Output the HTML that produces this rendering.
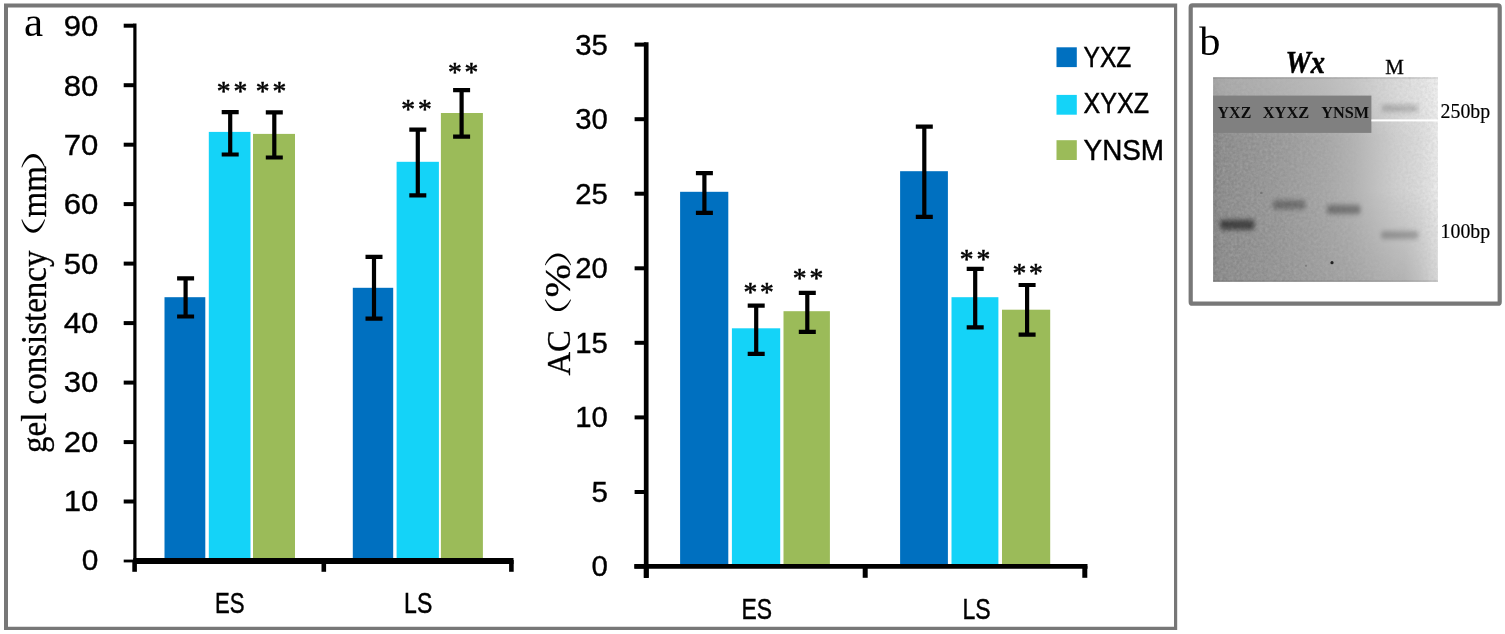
<!DOCTYPE html>
<html lang="en"><head><meta charset="utf-8"><title>Figure</title>
<style>
html,body{margin:0;padding:0;background:#fff;}
body{width:1505px;height:634px;overflow:hidden;}
svg{display:block;}
.sans{font-family:"Liberation Sans","DejaVu Sans",sans-serif;}
.serif{font-family:"Liberation Serif","Noto Serif CJK SC","DejaVu Serif",serif;}
</style></head><body>
<svg width="1505" height="634" viewBox="0 0 1505 634">
<defs>
<linearGradient id="gelg" x1="0" y1="0" x2="1" y2="0">
<stop offset="0" stop-color="#7c7c7c"/><stop offset="0.04" stop-color="#878787"/><stop offset="0.3" stop-color="#959595"/><stop offset="0.5" stop-color="#a3a3a3"/><stop offset="0.62" stop-color="#b0b0b0"/><stop offset="0.72" stop-color="#c0c0c0"/><stop offset="0.82" stop-color="#d0d0d0"/><stop offset="0.92" stop-color="#dcdcdc"/><stop offset="1" stop-color="#ececec"/>
</linearGradient>
<linearGradient id="gelv" x1="0" y1="0" x2="0" y2="1">
<stop offset="0" stop-color="#fff" stop-opacity="0.27"/><stop offset="0.09" stop-color="#fff" stop-opacity="0.24"/><stop offset="0.3" stop-color="#fff" stop-opacity="0"/><stop offset="1" stop-color="#fff" stop-opacity="0"/>
</linearGradient>
<linearGradient id="gelh2" x1="0" y1="0" x2="1" y2="0">
<stop offset="0" stop-color="#000" stop-opacity="0"/><stop offset="0.5" stop-color="#000" stop-opacity="0.3"/><stop offset="0.85" stop-color="#000" stop-opacity="1"/><stop offset="1" stop-color="#000" stop-opacity="0.5"/>
</linearGradient>
<linearGradient id="gelv2" x1="0" y1="0" x2="0" y2="1">
<stop offset="0" stop-color="#fff" stop-opacity="0"/><stop offset="0.55" stop-color="#fff" stop-opacity="0"/><stop offset="1" stop-color="#fff" stop-opacity="1"/>
</linearGradient>
<mask id="gm" maskUnits="userSpaceOnUse" x="1213" y="77" width="225" height="205"><rect x="1213" y="77" width="225" height="205" fill="url(#gelv2)"/></mask>
<filter id="noise" x="0" y="0" width="100%" height="100%"><feTurbulence type="fractalNoise" baseFrequency="0.35" numOctaves="2" seed="7" result="n"/><feColorMatrix in="n" type="matrix" values="0 0 0 0 0.5  0 0 0 0 0.5  0 0 0 0 0.5  0.9 0.9 0 0 -0.62"/></filter>
<filter id="b2" x="-40%" y="-250%" width="180%" height="600%"><feGaussianBlur stdDeviation="2 1.6"/></filter>
<filter id="b3" x="-40%" y="-150%" width="180%" height="400%"><feGaussianBlur stdDeviation="2.2 2.4"/></filter>
<filter id="b1" x="-50%" y="-50%" width="200%" height="200%"><feGaussianBlur stdDeviation="0.7"/></filter>
</defs>
<rect width="1505" height="634" fill="#fff"/>

<path d="M4 3.6H1177.2V630H4Z M8 7.6V626.8H1174V7.6Z" fill="#777" fill-rule="evenodd"/>
<rect x="1190.7" y="5.4" width="309" height="298.3" rx="1.8" fill="none" stroke="#787878" stroke-width="4.2"/>
<rect x="164.5" y="297.2" width="40.8" height="261.3" fill="#0070C0"/>
<rect x="208.8" y="131.9" width="41.7" height="426.6" fill="#14D3F8"/>
<rect x="253.0" y="133.9" width="42.0" height="424.6" fill="#9BBB59"/>
<rect x="352.8" y="287.8" width="40.4" height="270.7" fill="#0070C0"/>
<rect x="396.6" y="161.8" width="42.3" height="396.7" fill="#14D3F8"/>
<rect x="440.9" y="113.0" width="42.0" height="445.5" fill="#9BBB59"/>
<path d="M134.9 23.6V563.5" stroke="#000" stroke-width="3.2" fill="none"/>
<path d="M133.3 561H513.5" stroke="#000" stroke-width="6" fill="none"/>
<path d="M123.7 25.7H134" stroke="#000" stroke-width="4" fill="none"/>
<text class="sans" x="98.4" y="36.3" font-size="29" text-anchor="end" textLength="34.6" lengthAdjust="spacingAndGlyphs" stroke="#000" stroke-width="0.35">90</text>
<path d="M123.7 85.2H134" stroke="#000" stroke-width="4" fill="none"/>
<text class="sans" x="98.4" y="95.6" font-size="29" text-anchor="end" textLength="34.6" lengthAdjust="spacingAndGlyphs" stroke="#000" stroke-width="0.35">80</text>
<path d="M123.7 144.7H134" stroke="#000" stroke-width="4" fill="none"/>
<text class="sans" x="98.4" y="154.9" font-size="29" text-anchor="end" textLength="34.6" lengthAdjust="spacingAndGlyphs" stroke="#000" stroke-width="0.35">70</text>
<path d="M123.7 204.1H134" stroke="#000" stroke-width="4" fill="none"/>
<text class="sans" x="98.4" y="214.3" font-size="29" text-anchor="end" textLength="34.6" lengthAdjust="spacingAndGlyphs" stroke="#000" stroke-width="0.35">60</text>
<path d="M123.7 263.6H134" stroke="#000" stroke-width="4" fill="none"/>
<text class="sans" x="98.4" y="273.6" font-size="29" text-anchor="end" textLength="34.6" lengthAdjust="spacingAndGlyphs" stroke="#000" stroke-width="0.35">50</text>
<path d="M123.7 323.1H134" stroke="#000" stroke-width="4" fill="none"/>
<text class="sans" x="98.4" y="332.9" font-size="29" text-anchor="end" textLength="34.6" lengthAdjust="spacingAndGlyphs" stroke="#000" stroke-width="0.35">40</text>
<path d="M123.7 382.6H134" stroke="#000" stroke-width="4" fill="none"/>
<text class="sans" x="98.4" y="392.2" font-size="29" text-anchor="end" textLength="34.6" lengthAdjust="spacingAndGlyphs" stroke="#000" stroke-width="0.35">30</text>
<path d="M123.7 442.1H134" stroke="#000" stroke-width="4" fill="none"/>
<text class="sans" x="98.4" y="451.5" font-size="29" text-anchor="end" textLength="34.6" lengthAdjust="spacingAndGlyphs" stroke="#000" stroke-width="0.35">20</text>
<path d="M123.7 501.5H134" stroke="#000" stroke-width="4" fill="none"/>
<text class="sans" x="98.4" y="510.9" font-size="29" text-anchor="end" textLength="34.6" lengthAdjust="spacingAndGlyphs" stroke="#000" stroke-width="0.35">10</text>
<path d="M123.7 561.0H134" stroke="#000" stroke-width="2.8" fill="none"/>
<text class="sans" x="98.4" y="570.2" font-size="29" text-anchor="end" textLength="16.6" lengthAdjust="spacingAndGlyphs" stroke="#000" stroke-width="0.35">0</text>
<path d="M134.6 560V571.8" stroke="#000" stroke-width="4.6" fill="none"/>
<path d="M323.8 560V571.8" stroke="#000" stroke-width="4.6" fill="none"/>
<path d="M511.4 560V571.8" stroke="#000" stroke-width="4.6" fill="none"/>
<path d="M185.6 278.3V316.5" stroke="#000" stroke-width="4.2" fill="none"/>
<path d="M177.1 278.3H194.1M177.1 316.5H194.1" stroke="#000" stroke-width="4.2" fill="none"/>
<path d="M230.2 112.2V154.5" stroke="#000" stroke-width="4.2" fill="none"/>
<path d="M221.7 112.2H238.7M221.7 154.5H238.7" stroke="#000" stroke-width="4.2" fill="none"/>
<path d="M274.3 112.4V157.5" stroke="#000" stroke-width="4.2" fill="none"/>
<path d="M265.8 112.4H282.8M265.8 157.5H282.8" stroke="#000" stroke-width="4.2" fill="none"/>
<path d="M374.0 256.9V318.7" stroke="#000" stroke-width="4.2" fill="none"/>
<path d="M365.5 256.9H382.5M365.5 318.7H382.5" stroke="#000" stroke-width="4.2" fill="none"/>
<path d="M417.8 129.7V195.4" stroke="#000" stroke-width="4.2" fill="none"/>
<path d="M409.3 129.7H426.3M409.3 195.4H426.3" stroke="#000" stroke-width="4.2" fill="none"/>
<path d="M461.6 90.2V136.6" stroke="#000" stroke-width="4.2" fill="none"/>
<path d="M453.1 90.2H470.1M453.1 136.6H470.1" stroke="#000" stroke-width="4.2" fill="none"/>
<text class="serif" x="233.4" y="99.6" font-size="27.5" text-anchor="middle" letter-spacing="2.8" stroke="#000" stroke-width="0.55">**</text>
<text class="serif" x="272.4" y="99.6" font-size="27.5" text-anchor="middle" letter-spacing="2.8" stroke="#000" stroke-width="0.55">**</text>
<text class="serif" x="417.9" y="118.2" font-size="27.5" text-anchor="middle" letter-spacing="2.8" stroke="#000" stroke-width="0.55">**</text>
<text class="serif" x="464.6" y="80.8" font-size="27.5" text-anchor="middle" letter-spacing="2.8" stroke="#000" stroke-width="0.55">**</text>
<text class="sans" x="229.7" y="612.7" font-size="28.6" text-anchor="middle" textLength="29.6" lengthAdjust="spacingAndGlyphs" stroke="#000" stroke-width="0.45">ES</text>
<text class="sans" x="418.2" y="612.7" font-size="28.6" text-anchor="middle" textLength="28.2" lengthAdjust="spacingAndGlyphs" stroke="#000" stroke-width="0.45">LS</text>
<text class="serif" font-size="33" transform="translate(45.5,453) rotate(-90) scale(1,1.06)" stroke="#000" stroke-width="0.3">gel consistency<tspan x="189" y="-2.8" font-size="23.7" textLength="47.9" lengthAdjust="spacingAndGlyphs" stroke="none">（</tspan><tspan x="235.6" y="0">mm</tspan><tspan x="282.3" y="-2.8" font-size="23.7" textLength="47.9" lengthAdjust="spacingAndGlyphs" stroke="none">）</tspan></text>
<text class="serif" x="24" y="36.4" font-size="43">a</text>
<rect x="680.1" y="191.8" width="48.2" height="372.7" fill="#0070C0"/>
<rect x="731.9" y="328.3" width="48.3" height="236.2" fill="#14D3F8"/>
<rect x="783.5" y="311.2" width="46.4" height="253.3" fill="#9BBB59"/>
<rect x="900.1" y="171.2" width="47.8" height="393.3" fill="#0070C0"/>
<rect x="951.5" y="297.2" width="46.9" height="267.3" fill="#14D3F8"/>
<rect x="1002.0" y="309.7" width="48.2" height="254.8" fill="#9BBB59"/>
<path d="M646.2 42.3V578" stroke="#000" stroke-width="4.7" fill="none"/>
<path d="M634.3 566.4H1087.5" stroke="#000" stroke-width="4.7" fill="none"/>
<path d="M634.6 44.6H646" stroke="#000" stroke-width="4" fill="none"/>
<text class="sans" x="607.9" y="54.7" font-size="29" text-anchor="end" textLength="32.6" lengthAdjust="spacingAndGlyphs" stroke="#000" stroke-width="0.35">35</text>
<path d="M634.6 119.2H646" stroke="#000" stroke-width="4" fill="none"/>
<text class="sans" x="607.9" y="129.2" font-size="29" text-anchor="end" textLength="32.6" lengthAdjust="spacingAndGlyphs" stroke="#000" stroke-width="0.35">30</text>
<path d="M634.6 193.7H646" stroke="#000" stroke-width="4" fill="none"/>
<text class="sans" x="607.9" y="203.7" font-size="29" text-anchor="end" textLength="32.6" lengthAdjust="spacingAndGlyphs" stroke="#000" stroke-width="0.35">25</text>
<path d="M634.6 268.3H646" stroke="#000" stroke-width="4" fill="none"/>
<text class="sans" x="607.9" y="278.2" font-size="29" text-anchor="end" textLength="32.6" lengthAdjust="spacingAndGlyphs" stroke="#000" stroke-width="0.35">20</text>
<path d="M634.6 342.8H646" stroke="#000" stroke-width="4" fill="none"/>
<text class="sans" x="607.9" y="352.7" font-size="29" text-anchor="end" textLength="32.6" lengthAdjust="spacingAndGlyphs" stroke="#000" stroke-width="0.35">15</text>
<path d="M634.6 417.4H646" stroke="#000" stroke-width="4" fill="none"/>
<text class="sans" x="607.9" y="427.2" font-size="29" text-anchor="end" textLength="32.6" lengthAdjust="spacingAndGlyphs" stroke="#000" stroke-width="0.35">10</text>
<path d="M634.6 492.0H646" stroke="#000" stroke-width="4" fill="none"/>
<text class="sans" x="607.9" y="501.7" font-size="29" text-anchor="end" textLength="16.4" lengthAdjust="spacingAndGlyphs" stroke="#000" stroke-width="0.35">5</text>
<path d="M634.6 566.5H646" stroke="#000" stroke-width="4" fill="none"/>
<text class="sans" x="607.9" y="576.2" font-size="29" text-anchor="end" textLength="16.4" lengthAdjust="spacingAndGlyphs" stroke="#000" stroke-width="0.35">0</text>
<path d="M646.3 566V577.8" stroke="#000" stroke-width="5" fill="none"/>
<path d="M865.2 566V577.8" stroke="#000" stroke-width="5" fill="none"/>
<path d="M1084.8 566V577.8" stroke="#000" stroke-width="5" fill="none"/>
<path d="M704.4 173.1V212.9" stroke="#000" stroke-width="4.2" fill="none"/>
<path d="M695.9 173.1H712.9M695.9 212.9H712.9" stroke="#000" stroke-width="4.2" fill="none"/>
<path d="M756.2 305.6V353.9" stroke="#000" stroke-width="4.2" fill="none"/>
<path d="M747.7 305.6H764.7M747.7 353.9H764.7" stroke="#000" stroke-width="4.2" fill="none"/>
<path d="M807.3 292.9V331.9" stroke="#000" stroke-width="4.2" fill="none"/>
<path d="M798.8 292.9H815.8M798.8 331.9H815.8" stroke="#000" stroke-width="4.2" fill="none"/>
<path d="M924.3 126.7V216.9" stroke="#000" stroke-width="4.2" fill="none"/>
<path d="M915.8 126.7H932.8M915.8 216.9H932.8" stroke="#000" stroke-width="4.2" fill="none"/>
<path d="M975.2 268.9V327.4" stroke="#000" stroke-width="4.2" fill="none"/>
<path d="M966.7 268.9H983.7M966.7 327.4H983.7" stroke="#000" stroke-width="4.2" fill="none"/>
<path d="M1027.1 285.0V334.6" stroke="#000" stroke-width="4.2" fill="none"/>
<path d="M1018.6 285.0H1035.6M1018.6 334.6H1035.6" stroke="#000" stroke-width="4.2" fill="none"/>
<text class="serif" x="760.1" y="300.9" font-size="27.5" text-anchor="middle" letter-spacing="2.8" stroke="#000" stroke-width="0.55">**</text>
<text class="serif" x="809.4" y="286.6" font-size="27.5" text-anchor="middle" letter-spacing="2.8" stroke="#000" stroke-width="0.55">**</text>
<text class="serif" x="976.4" y="267.5" font-size="27.5" text-anchor="middle" letter-spacing="2.8" stroke="#000" stroke-width="0.55">**</text>
<text class="serif" x="1029.1" y="281.5" font-size="27.5" text-anchor="middle" letter-spacing="2.8" stroke="#000" stroke-width="0.55">**</text>
<text class="sans" x="756.7" y="619.2" font-size="28.6" text-anchor="middle" textLength="30.6" lengthAdjust="spacingAndGlyphs" stroke="#000" stroke-width="0.45">ES</text>
<text class="sans" x="976.6" y="619.2" font-size="28.6" text-anchor="middle" textLength="28.2" lengthAdjust="spacingAndGlyphs" stroke="#000" stroke-width="0.45">LS</text>
<text class="serif" font-size="32.7" transform="translate(570.3,375.6) rotate(-90) scale(1,1.04)" stroke="#000" stroke-width="0.3">AC<tspan x="37.5" y="-2.3" font-size="26.7" textLength="41.4" lengthAdjust="spacingAndGlyphs" stroke="none">（</tspan><tspan x="78" y="0" font-size="35" textLength="33.5" lengthAdjust="spacingAndGlyphs">%</tspan><tspan x="107.5" y="-2.3" font-size="26.7" textLength="41.4" lengthAdjust="spacingAndGlyphs" stroke="none">）</tspan></text>
<rect x="1056.5" y="47.3" width="20.3" height="19.8" fill="#0070C0"/>
<text class="sans" x="1083.6" y="67.1" font-size="28.6" textLength="47.8" lengthAdjust="spacingAndGlyphs" stroke="#000" stroke-width="0.45">YXZ</text>
<rect x="1056.5" y="94.9" width="20.3" height="19.8" fill="#14D3F8"/>
<text class="sans" x="1083.6" y="112.9" font-size="28.6" textLength="65.4" lengthAdjust="spacingAndGlyphs" stroke="#000" stroke-width="0.45">XYXZ</text>
<rect x="1056.5" y="140.2" width="20.3" height="19.8" fill="#9BBB59"/>
<text class="sans" x="1083.6" y="160.0" font-size="28.6" textLength="80.5" lengthAdjust="spacingAndGlyphs" stroke="#000" stroke-width="0.45">YNSM</text>
<text class="serif" x="1199.3" y="55" font-size="39.8" textLength="21.2" lengthAdjust="spacingAndGlyphs">b</text>
<text class="serif" x="1285.4" y="73.2" font-size="32.5" font-weight="bold" font-style="italic" textLength="39.6" lengthAdjust="spacingAndGlyphs" stroke="#000" stroke-width="0.5">Wx</text>
<text class="serif" x="1385.3" y="73.7" font-size="20.5" textLength="18.6" lengthAdjust="spacingAndGlyphs" stroke="#000" stroke-width="0.3">M</text>
<g>
<rect x="1213.1" y="77.3" width="224.8" height="204.5" fill="url(#gelg)"/>
<rect x="1213.1" y="77.3" width="224.8" height="204.5" fill="url(#gelv)"/>
<g mask="url(#gm)" opacity="0.16"><rect x="1213.1" y="77.3" width="224.8" height="204.5" fill="url(#gelh2)"/></g>
<rect x="1213.1" y="77.3" width="224.8" height="204.5" filter="url(#noise)" opacity="0.5"/>
<rect x="1213.1" y="77.3" width="224.8" height="1.4" fill="#000" opacity="0.12"/>
<rect x="1213.1" y="280.4" width="224.8" height="1.4" fill="#000" opacity="0.12"/>
<rect x="1220" y="219.8" width="34.5" height="10" rx="3" fill="#000" opacity="0.55" filter="url(#b3)"/>
<rect x="1273" y="200.3" width="32.5" height="9" rx="3" fill="#000" opacity="0.3" filter="url(#b3)"/>
<rect x="1327" y="205" width="33.5" height="9" rx="3" fill="#000" opacity="0.33" filter="url(#b3)"/>
<rect x="1381" y="231.3" width="37.5" height="7.5" rx="3" fill="#000" opacity="0.24" filter="url(#b3)"/>
<rect x="1381.5" y="105" width="36.5" height="6.5" rx="3" fill="#000" opacity="0.2" filter="url(#b3)"/>
<circle cx="1332" cy="262.7" r="1.6" fill="#222" filter="url(#b1)"/>
<circle cx="1306" cy="265.8" r="1.1" fill="#555" opacity="0.45" filter="url(#b1)"/>
<circle cx="1261.3" cy="193" r="1.3" fill="#555" opacity="0.5" filter="url(#b1)"/>
<rect x="1213.1" y="95.6" width="158.3" height="37.3" fill="#808080"/>
<rect x="1371.4" y="119.4" width="66.5" height="2" fill="#fff"/>
<text class="serif" x="1217.6000000000001" y="118.2" font-size="16.6" font-weight="bold" fill="#0c0c0c" textLength="33.7" lengthAdjust="spacingAndGlyphs">YXZ</text>
<text class="serif" x="1262.7" y="118.2" font-size="16.6" font-weight="bold" fill="#0c0c0c" textLength="46.6" lengthAdjust="spacingAndGlyphs">XYXZ</text>
<text class="serif" x="1321.3" y="118.2" font-size="16.6" font-weight="bold" fill="#0c0c0c" textLength="47.9" lengthAdjust="spacingAndGlyphs">YNSM</text>
</g>
<text class="serif" x="1440.6" y="118.2" font-size="22" textLength="49.6" lengthAdjust="spacingAndGlyphs" stroke="#000" stroke-width="0.2">250bp</text>
<text class="serif" x="1440.6" y="237.6" font-size="22" textLength="49.6" lengthAdjust="spacingAndGlyphs" stroke="#000" stroke-width="0.2">100bp</text>
</svg></body></html>
